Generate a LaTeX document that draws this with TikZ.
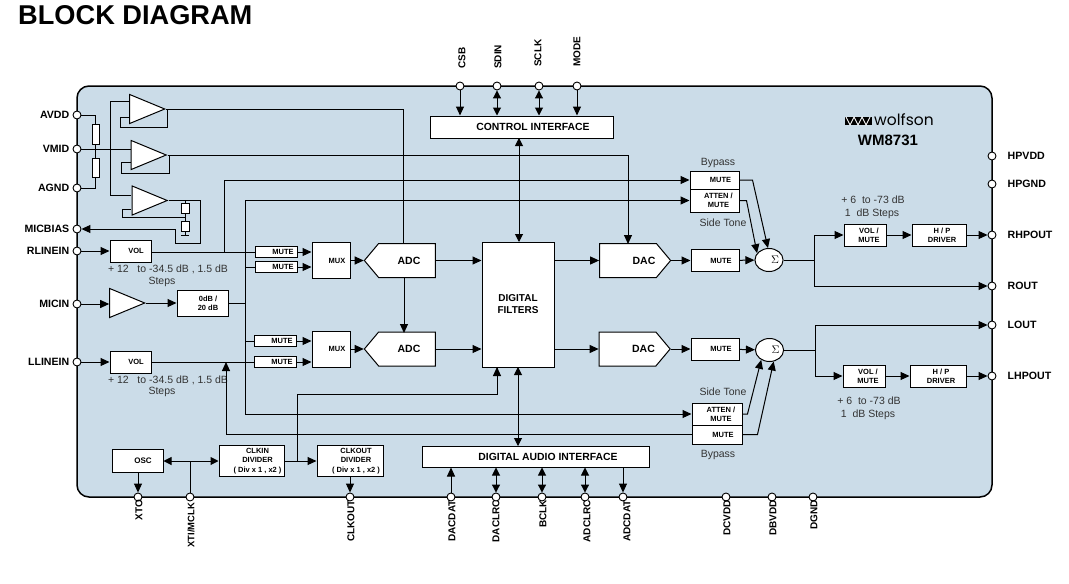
\documentclass[tikz,border=0pt]{standalone}
\usepackage{fontspec}
\setmainfont{Liberation Sans}
\newfontfamily\logofont{Poppins}
\usetikzlibrary{arrows.meta,shapes.geometric,shapes.symbols}
\newcommand{\sz}[1]{\fontsize{#1}{#1}\selectfont}
\definecolor{chipblue}{HTML}{CBDCE8}
\definecolor{noteink}{HTML}{333333}
\tikzset{
  blockbox/.style={draw,fill=white,line width=1,inner sep=0,font=\fontsize{7.5}{9.3}\selectfont\bfseries,align=center},
  bigbox/.style={blockbox,font=\sz{10.4}\bfseries},
  amp/.style={draw,fill=white,line width=1,inner sep=0,isosceles triangle,isosceles triangle stretches,
    minimum height=35,minimum width=29,anchor=apex},
  conv/.style={draw,fill=white,line width=1,inner sep=0,signal,signal pointer angle=100,
    minimum width=71,minimum height=34,font=\sz{10.5}\bfseries},
  adder/.style={draw,fill=white,line width=1,inner sep=0,ellipse,minimum width=28,minimum height=23,font=\sz{11}},
  res/.style={draw,fill=white,line width=0.8,inner sep=0,minimum width=7,minimum height=20},
  pinhole/.style={draw,fill=white,line width=0.9,circle,inner sep=0,minimum size=8},
  pinname/.style={font=\sz{10.6}\bfseries,inner sep=0},
  sidepin/.style={pinname,font=\sz{10}\bfseries,rotate=90},
  note/.style={font=\sz{10.5},text=noteink,inner sep=0},
  wire/.style={line width=1},
  sig/.style={wire,-{Triangle[length=9,width=8]}},
  both/.style={wire,{Triangle[length=8,width=8]}-{Triangle[length=8,width=8]}},
}
\begin{document}
\begin{tikzpicture}[x=1pt,y=-1pt]
  \useasboundingbox (0,0) rectangle (1069,584);

  \node (title) [anchor=west,inner sep=0,font=\sz{27.2}\bfseries] at (18,15) {BLOCK DIAGRAM};
  \node (chip) [draw,fill=chipblue,line width=1.5,rounded corners=12,minimum width=915,minimum height=411] at (534.5,291.5) {};

  % pins round the chip
  \foreach \pin/\py in {AVDD/115,VMID/149,AGND/188,MICBIAS/229,RLINEIN/251,MICIN/304,LLINEIN/362} {
    \node (\pin) [pinhole] at (77,\py) {};
    \node (l\pin) [pinname,anchor=east] at (69.5,\py) {\pin};
  }
  \foreach \pin/\py in {HPVDD/156,HPGND/184,RHPOUT/235,ROUT/286,LOUT/325,LHPOUT/376} {
    \node (\pin) [pinhole] at (992,\py) {};
    \node (l\pin) [pinname,anchor=west] at (1007.5,\py) {\pin};
  }
  \foreach \pin/\px/\lx/\ly in {CSB/460/462/69,SDIN/497/498/69,SCLK/539/538/67,MODE/577/577/67} {
    \node (\pin) [pinhole] at (\px,86) {};
    \node (l\pin) [sidepin,anchor=west] at (\lx,\ly) {\pin};
  }
  \foreach \pin/\px/\lx/\ly in {XTO/138/139/500,CLKOUT/350/351/500,DACDAT/451/452/500,DACLRC/496/496/500,BCLK/542/543/500,ADCLRC/585/587/500,ADCDAT/623/627/500,DCVDD/726/727/500,DBVDD/772/773/500,DGND/813/814/500} {
    \node (\pin) [pinhole] at (\px,497) {};
    \node (l\pin) [sidepin,anchor=east] at (\lx,\ly) {\pin};
  }
  \node (XTI) [pinhole] at (190,497) {};
  \node (lXTI) [sidepin,anchor=east,font=\sz{9.4}\bfseries] at (191,503) {XTI/MCLK};

  % reference buffers
  \node (ampa) [amp] at (166,109) {};
  \node (ampb) [amp] at (167.5,155) {};
  \node (ampc) [amp] at (168.5,200.5) {};
  \node (micamp) [amp] at (146,303) {};
  \node (ra) [res,minimum height=20] at (95.5,134) {};
  \node (rb) [res,minimum height=19] at (95.5,167.5) {};
  \node (rc) [res,minimum width=8,minimum height=10] at (185,208) {};
  \node (rd) [res,minimum width=8,minimum height=10] at (185,226) {};

  % input blocks
  \node (volr) [blockbox,minimum width=41,minimum height=22] at (130.5,251) {\hspace{11pt}VOL};
  \node (voll) [blockbox,minimum width=41,minimum height=22] at (130.5,362) {\hspace{11pt}VOL};
  \node (boost) [blockbox,minimum width=51,minimum height=26] at (202.5,303) {\hspace*{11pt}0dB /\\\hspace*{11pt}20 dB};
  \node (muteRa) [blockbox,minimum width=42,minimum height=11] at (276,252) {\hspace{14pt}MUTE};
  \node (muteRb) [blockbox,minimum width=42,minimum height=11] at (276,267) {\hspace{14pt}MUTE};
  \node (muteLa) [blockbox,minimum width=42,minimum height=11] at (275,341) {\hspace{14pt}MUTE};
  \node (muteLb) [blockbox,minimum width=42,minimum height=11] at (275,362) {\hspace{14pt}MUTE};
  \node (muxr) [blockbox,minimum width=38,minimum height=36] at (331,260.5) {\hspace{12pt}MUX};
  \node (muxl) [blockbox,minimum width=38,minimum height=36] at (331,349) {\hspace{12pt}MUX};
  \node (adcr) [conv,signal to=west] at (407,260.5) {\hspace{4pt}ADC};
  \node (adcl) [conv,signal to=west] at (407,349) {\hspace{4pt}ADC};

  % digital part
  \node (filters) [blockbox,minimum width=72,minimum height=125,font=\sz{10}\bfseries] at (518,304.5) {DIGITAL\\[2pt]FILTERS};
  \node (control) [bigbox,minimum width=183,minimum height=22] at (521.5,127) {\hspace{23pt}CONTROL INTERFACE};
  \node (audio) [bigbox,minimum width=227,minimum height=21] at (535.5,456.5) {\hspace{25pt}DIGITAL AUDIO INTERFACE};
  \node (dacr) [conv,signal to=east] at (628,260.5) {\hspace{32pt}DAC};
  \node (dacl) [conv,signal to=east] at (627.5,349) {\hspace{32pt}DAC};

  % clocks
  \node (osc) [blockbox,minimum width=51,minimum height=23,font=\sz{8}\bfseries] at (137.5,461) {\hspace{11pt}OSC};
  \node (clkin) [blockbox,minimum width=65,minimum height=31] at (251.5,461) {\hspace*{12pt}CLKIN\\\hspace*{12pt}DIVIDER\\\hspace*{12pt}( Div x 1 , x2 )};
  \node (clkout) [blockbox,minimum width=66,minimum height=31] at (350,461) {\hspace*{12pt}CLKOUT\\\hspace*{12pt}DIVIDER\\\hspace*{12pt}( Div x 1 , x2 )};

  % output blocks
  \node (bypr) [blockbox,minimum width=49,minimum height=18] at (714.5,180) {\hspace{12pt}MUTE};
  \node (sider) [blockbox,minimum width=49,minimum height=23] at (714.5,200.5) {\hspace*{8pt}ATTEN /\\\hspace*{8pt}MUTE};
  \node (mutedr) [blockbox,minimum width=48,minimum height=22] at (715,260.5) {\hspace{12pt}MUTE};
  \node (mutedl) [blockbox,minimum width=48,minimum height=22] at (715,349) {\hspace{12pt}MUTE};
  \node (sidel) [blockbox,minimum width=50,minimum height=22] at (717,414) {\hspace*{8pt}ATTEN /\\\hspace*{8pt}MUTE};
  \node (bypl) [blockbox,minimum width=50,minimum height=19] at (717,434.5) {\hspace{12pt}MUTE};
  \node (sumr) [adder] at (769,260) {\hspace{12pt}$\Sigma$};
  \node (suml) [adder] at (769.5,350) {\hspace{12pt}$\Sigma$};
  \node (hpvolr) [blockbox,minimum width=42,minimum height=22] at (865,235) {\hspace*{8pt}VOL /\\\hspace*{8pt}MUTE};
  \node (hpvoll) [blockbox,minimum width=42,minimum height=22] at (864,376) {\hspace*{8pt}VOL /\\\hspace*{8pt}MUTE};
  \node (drvr) [blockbox,minimum width=54,minimum height=22] at (939,235) {\hspace*{6pt}H / P\\\hspace*{6pt}DRIVER};
  \node (drvl) [blockbox,minimum width=56,minimum height=22] at (938,376) {\hspace*{6pt}H / P\\\hspace*{6pt}DRIVER};

  % printed notes
  \node (nra) [note] at (168,269) {+ 12\ \ \ to -34.5 dB\ , 1.5 dB};
  \node (nrb) [note] at (162,282) {Steps};
  \node (nla) [note] at (168,380) {+ 12\ \ \ to -34.5 dB\ , 1.5 dB};
  \node (nlb) [note] at (162,392) {Steps};
  \node (nbr) [note] at (718,163) {Bypass};
  \node (nsr) [note] at (723,223) {Side Tone};
  \node (nsl) [note] at (723,392) {Side Tone};
  \node (nbl) [note] at (718,455) {Bypass};
  \node (nhra) [note] at (873,200) {+ 6\ \ to -73 dB};
  \node (nhrb) [note] at (872,214) {1\ \ dB Steps};
  \node (nhla) [note] at (869,401) {+ 6\ \ to -73 dB};
  \node (nhlb) [note] at (868,415) {1\ \ dB Steps};

  % maker's mark
  \node (mark) [fill=black,minimum width=27,minimum height=8,inner sep=0] at (858.5,121) {};
  \draw[white,line width=0.9] (846,117) -- (850,125) -- (854,117) -- (858,125) -- (862,117) -- (866,125) -- (870,117);
  \node (maker) [anchor=west,inner sep=0,font=\sz{15.5}\logofont] at (874,120) {wolfson};
  \node (part) [inner sep=0,font=\sz{15}\bfseries] at (888,140) {WM8731};

  % named joints
  \coordinate (ampaP) at (129,101);
  \coordinate (ampaN) at (129,117);
  \coordinate (ampbP) at (131,149);
  \coordinate (ampbN) at (131,162);
  \coordinate (ampcP) at (131,195);
  \coordinate (ampcN) at (131,209);
  \coordinate (busa) at (110,195);
  \coordinate (fba) at (120,117);
  \coordinate (fbb) at (121,162);
  \coordinate (fbc) at (122,209);
  \coordinate (taprc) at (185,200.5);
  \coordinate (tapcd) at (185,217);
  \coordinate (gndc) at (185,235);
  \coordinate (biasa) at (175,243);
  \coordinate (adcV) at (403,243);
  \coordinate (dacV) at (628,244);
  \coordinate (adcS) at (404,277);
  \coordinate (adcN) at (404,333);
  \coordinate (jb) at (224,252);
  \coordinate (jc) at (245,267);
  \coordinate (jd) at (226,362);
  \coordinate (je) at (297,461);
  \coordinate (jf) at (190,461);
  \coordinate (jg) at (245,200.5);
  \coordinate (jk) at (245,303);
  \coordinate (jl) at (245,341);
  \coordinate (jm) at (245,414);
  \coordinate (jn) at (226,434.5);
  \coordinate (jo) at (297,394);
  \coordinate (jh) at (814,260);
  \coordinate (ji) at (815,350);
  \coordinate (ftap) at (497,367);
  \coordinate (fup) at (519,242);
  \coordinate (cdn) at (519,138);
  \coordinate (fdn) at (518,367);
  \coordinate (aup) at (518,446);
  \coordinate (xtu) at (138,473);

  % reference wiring
  \draw[wire] (AVDD) -| (ra.north);
  \draw[wire] (ra.south) -- (rb.north);
  \draw[wire] (AGND) -| (rb.south);
  \draw[wire] (VMID) -- (ampbP);
  \draw[wire] (ampaP) -| (busa) -- (ampcP);
  \draw[wire] (ampa.apex) -| (adcV);
  \draw[wire] (ampa.apex) -- ++(1,0) -- ++(0,18) -| (fba) -- (ampaN);
  \draw[wire] (ampb.apex) -- ++(2,0) -- ++(0,18) -| (fbb) -- (ampbN);
  \draw[sig] (ampb.apex) -| (dacV);
  \draw[wire] (ampc.apex) -- ++(31.5,0) |- (biasa);
  \draw[sig] (biasa) |- (MICBIAS);
  \draw[wire] (taprc) -- (rc.north);
  \draw[wire] (rc.south) -- (rd.north);
  \draw[wire] (tapcd) -| (fbc) -- (ampcN);
  \draw[wire] (rd.south) -- (gndc);
  \draw[wire] (181,235) -- (189,235);

  % inputs
  \draw[sig] (RLINEIN) -- (volr);
  \draw[sig] (MICIN) -- (micamp.west |- MICIN);
  \draw[sig] (micamp.apex) -- (boost);
  \draw[sig] (LLINEIN) -- (voll);
  \draw[wire] (volr.east |- jb) -- (muteRa);
  \draw[wire] (voll) -- (muteLb);
  \draw[sig] (jb) |- (bypr);
  \draw[wire] (jg) -- (jm);
  \draw[sig] (jg) -- (sider);
  \draw[sig] (jm) -- (sidel);
  \draw[wire] (boost) -- (jk);
  \draw[wire] (jc) -- (muteRb);
  \draw[wire] (jl) -- (muteLa);
  \draw[sig] (muteRa) -- (muxr.west |- muteRa);
  \draw[sig] (muteRb) -- (muxr.west |- muteRb);
  \draw[sig] (muteLa) -- (muxl.west |- muteLa);
  \draw[sig] (muteLb) -- (muxl.west |- muteLb);
  \draw[sig] (muxr) -- (adcr.west);
  \draw[sig] (muxl) -- (adcl.west);
  \draw[sig] (adcS) -- (adcN);
  \draw[sig] (adcr.east) -- (filters.west |- adcr.east);
  \draw[sig] (adcl.east) -- (filters.west |- adcl.east);
  \draw[sig] (filters.east |- dacr.west) -- (dacr.west);
  \draw[sig] (filters.east |- dacl.west) -- (dacl.west);
  \draw[sig] (jn) -- (jd);
  \draw[wire] (jn) -- (bypl);

  % outputs
  \draw[sig] (dacr.east) -- (mutedr);
  \draw[sig] (dacl.east) -- (mutedl);
  \draw[sig] (mutedr) -- (sumr);
  \draw[sig] (mutedl) -- (suml);
  \draw[sig] (bypr.east) -- ++(13,0) -- (sumr.95);
  \draw[sig] (sider.east) -- ++(7,0) -- (sumr.150);
  \draw[sig] (sidel.east) -- ++(5,0) -- (suml.230);
  \draw[sig] (bypl.east) -- ++(15,0) -- (suml.290);
  \draw[wire] (sumr) -- (jh);
  \draw[wire] (suml) -- (ji);
  \draw[sig] (jh) |- (hpvolr);
  \draw[sig] (jh) |- (ROUT);
  \draw[sig] (ji) |- (LOUT);
  \draw[sig] (ji) |- (hpvoll);
  \draw[sig] (hpvolr) -- (drvr);
  \draw[sig] (hpvoll) -- (drvl);
  \draw[sig] (drvr) -- (RHPOUT);
  \draw[sig] (drvl) -- (LHPOUT);

  % digital wiring
  \draw[sig] (CSB) -- (CSB |- control.north);
  \draw[both] (SDIN) -- (SDIN |- control.north);
  \draw[both] (SCLK) -- (SCLK |- control.north);
  \draw[sig] (MODE) -- (MODE |- control.north);
  \draw[both] (cdn) -- (fup);
  \draw[both] (fdn) -- (aup);
  \draw[sig] (DACDAT) -- (DACDAT |- audio.south);
  \draw[both] (DACLRC) -- (DACLRC |- audio.south);
  \draw[both] (BCLK) -- (BCLK |- audio.south);
  \draw[both] (ADCLRC) -- (ADCLRC |- audio.south);
  \draw[sig] (ADCDAT |- audio.south) -- (ADCDAT);

  % clock wiring
  \draw[both] (osc) -- (clkin);
  \draw[wire] (XTI) -- (jf);
  \draw[sig] (xtu) -- (XTO);
  \draw[sig] (clkin) -- (clkout);
  \draw[sig] (clkout) -- (CLKOUT);
  \draw[wire] (je) -- (jo) -| (ftap);
  \draw[sig] (ftap |- jo) -- (ftap);
\end{tikzpicture}
\end{document}
